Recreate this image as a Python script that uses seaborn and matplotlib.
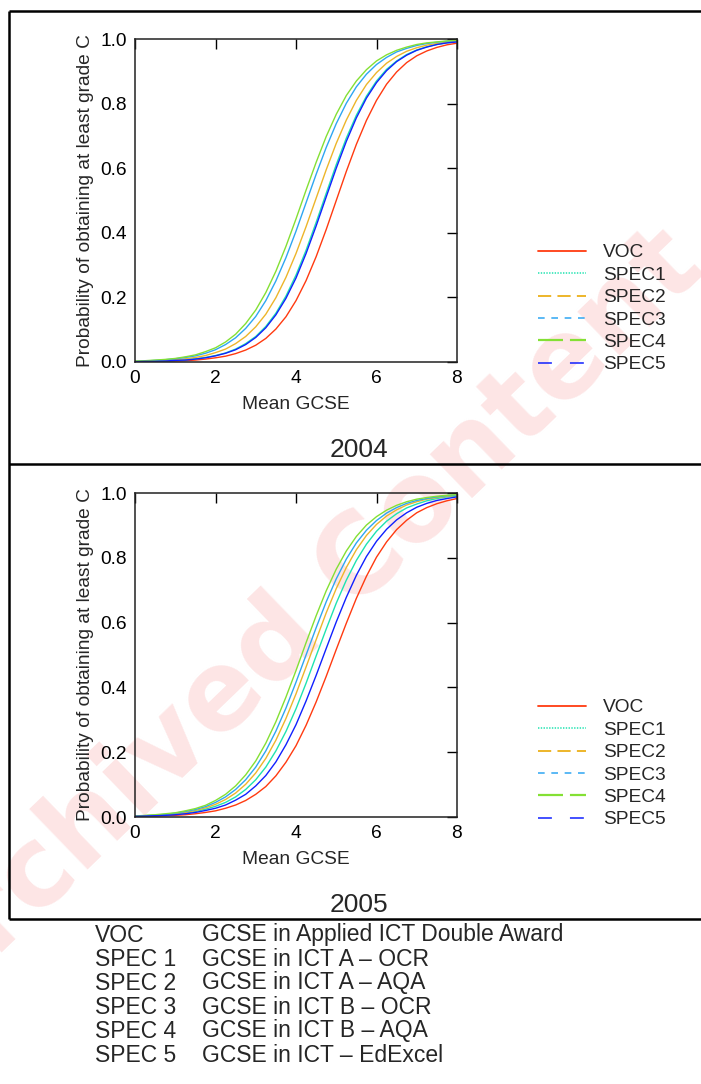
import numpy as np
import pandas as pd
import matplotlib
matplotlib.use("Agg")
import matplotlib.pyplot as plt
from matplotlib.lines import Line2D
import seaborn as sns

# ---------------- data ----------------
mean_gcse = [0.0, 0.25, 0.5, 0.75, 1.0, 1.25, 1.5, 1.75, 2.0, 2.25, 2.5, 2.75, 3.0, 3.25,
             3.5, 3.75, 4.0, 4.25, 4.5, 4.75, 5.0, 5.25, 5.5, 5.75, 6.0, 6.25, 6.5, 6.75,
             7.0, 7.25, 7.5, 7.75, 8.0]
series = ["VOC", "SPEC1", "SPEC2", "SPEC3", "SPEC4", "SPEC5"]

p2004_voc   = [0.001, 0.001, 0.001, 0.002, 0.003, 0.004, 0.006, 0.009, 0.013, 0.018, 0.026, 0.037, 0.052, 0.073, 0.102, 0.140, 0.190,
               0.252, 0.326, 0.410, 0.500, 0.590, 0.674, 0.748, 0.810, 0.860, 0.898, 0.927, 0.948, 0.963, 0.974, 0.982, 0.987]
p2004_spec1 = [0.001, 0.002, 0.002, 0.003, 0.005, 0.007, 0.010, 0.014, 0.020, 0.028, 0.040, 0.057, 0.079, 0.110, 0.151, 0.204, 0.269,
               0.346, 0.432, 0.522, 0.611, 0.693, 0.764, 0.823, 0.870, 0.906, 0.932, 0.952, 0.966, 0.976, 0.983, 0.988, 0.992]
p2004_spec2 = [0.002, 0.002, 0.003, 0.005, 0.007, 0.010, 0.014, 0.020, 0.029, 0.040, 0.057, 0.079, 0.109, 0.148, 0.199, 0.262, 0.336,
               0.419, 0.507, 0.595, 0.677, 0.749, 0.810, 0.859, 0.896, 0.925, 0.946, 0.962, 0.973, 0.981, 0.986, 0.990, 0.993]
p2004_spec3 = [0.002, 0.003, 0.005, 0.007, 0.010, 0.014, 0.019, 0.027, 0.038, 0.054, 0.075, 0.104, 0.141, 0.190, 0.251, 0.323, 0.405,
               0.493, 0.581, 0.664, 0.738, 0.801, 0.852, 0.891, 0.921, 0.943, 0.960, 0.971, 0.980, 0.986, 0.990, 0.993, 0.995]
p2004_spec4 = [0.003, 0.004, 0.006, 0.008, 0.011, 0.016, 0.022, 0.032, 0.044, 0.062, 0.086, 0.119, 0.161, 0.215, 0.281, 0.358, 0.443,
               0.532, 0.618, 0.698, 0.767, 0.825, 0.870, 0.905, 0.932, 0.951, 0.965, 0.975, 0.983, 0.988, 0.991, 0.994, 0.996]
p2004_spec5 = [0.001, 0.002, 0.002, 0.003, 0.005, 0.006, 0.009, 0.013, 0.019, 0.027, 0.038, 0.054, 0.076, 0.106, 0.146, 0.197, 0.260,
               0.336, 0.421, 0.511, 0.600, 0.683, 0.756, 0.817, 0.865, 0.902, 0.930, 0.950, 0.965, 0.975, 0.983, 0.988, 0.991]

p2005_voc   = [0.001, 0.002, 0.003, 0.004, 0.005, 0.007, 0.010, 0.014, 0.019, 0.027, 0.037, 0.051, 0.070, 0.094, 0.127, 0.169, 0.220,
               0.283, 0.355, 0.434, 0.517, 0.598, 0.675, 0.743, 0.802, 0.849, 0.887, 0.916, 0.939, 0.955, 0.967, 0.976, 0.983]
p2005_spec1 = [0.002, 0.003, 0.004, 0.006, 0.009, 0.012, 0.017, 0.024, 0.033, 0.045, 0.062, 0.085, 0.115, 0.154, 0.204, 0.264, 0.334,
               0.413, 0.497, 0.580, 0.660, 0.731, 0.792, 0.842, 0.882, 0.913, 0.936, 0.954, 0.966, 0.976, 0.983, 0.988, 0.991]
p2005_spec2 = [0.003, 0.004, 0.005, 0.007, 0.010, 0.014, 0.020, 0.028, 0.039, 0.054, 0.074, 0.101, 0.136, 0.181, 0.237, 0.304, 0.380,
               0.463, 0.547, 0.630, 0.705, 0.770, 0.825, 0.869, 0.903, 0.929, 0.948, 0.963, 0.973, 0.981, 0.986, 0.990, 0.993]
p2005_spec3 = [0.003, 0.004, 0.006, 0.008, 0.012, 0.017, 0.023, 0.032, 0.045, 0.062, 0.085, 0.115, 0.154, 0.204, 0.265, 0.336, 0.416,
               0.500, 0.584, 0.664, 0.735, 0.796, 0.846, 0.885, 0.915, 0.938, 0.955, 0.968, 0.977, 0.983, 0.988, 0.992, 0.994]
p2005_spec4 = [0.003, 0.005, 0.007, 0.010, 0.013, 0.019, 0.026, 0.036, 0.051, 0.070, 0.096, 0.130, 0.173, 0.228, 0.294, 0.370, 0.452,
               0.538, 0.621, 0.698, 0.765, 0.821, 0.866, 0.901, 0.927, 0.947, 0.962, 0.973, 0.981, 0.986, 0.990, 0.993, 0.995]
p2005_spec5 = [0.002, 0.003, 0.004, 0.005, 0.007, 0.010, 0.014, 0.020, 0.027, 0.037, 0.052, 0.070, 0.096, 0.128, 0.170, 0.223, 0.285,
               0.358, 0.437, 0.520, 0.602, 0.678, 0.746, 0.804, 0.851, 0.888, 0.917, 0.939, 0.956, 0.968, 0.977, 0.983, 0.988]

x_ticks = [0, 2, 4, 6, 8]
y_ticks = [0.0, 0.2, 0.4, 0.6, 0.8, 1.0]
years = ["2004", "2005"]
x_label = "Mean GCSE"
y_label = "Probability of obtaining at least grade C"

key_codes = ["VOC", "SPEC 1", "SPEC 2", "SPEC 3", "SPEC 4", "SPEC 5"]
key_texts = ["GCSE in Applied ICT Double Award",
             "GCSE in ICT A \u2013 OCR",
             "GCSE in ICT A \u2013 AQA",
             "GCSE in ICT B \u2013 OCR",
             "GCSE in ICT B \u2013 AQA",
             "GCSE in ICT \u2013 EdExcel"]
watermark = "Archived Content"

# ---------------- styles ----------------
colors = {"VOC": "#FF3A10", "SPEC1": "#1FE3B0", "SPEC2": "#EDB52A",
          "SPEC3": "#2EA6F2", "SPEC4": "#84E034", "SPEC5": "#1020FF"}
legend_dashes = {"VOC": None, "SPEC1": (1.0, 1.0), "SPEC2": (9.5, 4.5),
                 "SPEC3": (4.8, 4.8), "SPEC4": (18.0, 5.0), "SPEC5": (10.0, 13.0)}
legend_lw = {"VOC": 1.3, "SPEC1": 1.1, "SPEC2": 1.4, "SPEC3": 1.1, "SPEC4": 1.6, "SPEC5": 1.1}

sns.set_style("white")
plt.rcParams["font.family"] = ["Liberation Sans", "DejaVu Sans"]
plt.rcParams["lines.scale_dashes"] = False

W, H = 701, 1084
fig = plt.figure(figsize=(W / 100, H / 100), dpi=100)

# faint diagonal watermark, behind everything
fig.text(300 / W, 1 - 622 / H, watermark, rotation=44, fontsize=79, fontweight="bold",
         family=["DejaVu Sans"], color="#FDE5E5", ha="center", va="center", zorder=-5,
         rotation_mode="anchor")

data_by_year = {
    "2004": [p2004_voc, p2004_spec1, p2004_spec2, p2004_spec3, p2004_spec4, p2004_spec5],
    "2005": [p2005_voc, p2005_spec1, p2005_spec2, p2005_spec3, p2005_spec4, p2005_spec5],
}

axes_px = {"2004": (39, 362), "2005": (493, 817)}
legend_top_px = {"2004": 244, "2005": 699}
title_px = {"2004": 450, "2005": 905}

FS = 13.8
for yr in years:
    top, bot = axes_px[yr]
    ax = fig.add_axes([135 / W, 1 - bot / H, (457 - 135) / W, (bot - top) / H])
    ax.set_facecolor("none")
    rows = []
    for name, vals in zip(series, data_by_year[yr]):
        for xv, pv in zip(mean_gcse, vals):
            rows.append({"Mean GCSE": xv, "p": pv, "series": name})
    df = pd.DataFrame(rows)
    sns.lineplot(data=df, x="Mean GCSE", y="p", hue="series", hue_order=series,
                 palette=colors, linewidth=1.0, legend=False, ax=ax, sort=True,
                 estimator=None)
    ax.set_xlim(0, 8)
    ax.set_ylim(0, 1)
    ax.set_xticks(x_ticks)
    ax.set_yticks(y_ticks)
    ax.set_xticklabels([str(t) for t in x_ticks])
    ax.set_yticklabels([f"{t:.1f}" for t in y_ticks])
    ax.tick_params(direction="in", length=7, width=1.0, top=True, right=True,
                   labelsize=FS, pad=6, colors="black")
    for s in ax.spines.values():
        s.set_visible(True)
        s.set_color("#222222")
        s.set_linewidth(1.1)
    ax.set_xlabel(x_label, fontsize=FS, labelpad=6)
    ax.set_ylabel(y_label, fontsize=FS, labelpad=4)
    ax.grid(False)

    handles = [Line2D([0], [0], color=colors[n], lw=legend_lw[n],
                      linestyle="-" if legend_dashes[n] is None else (0, legend_dashes[n]))
               for n in series]
    ax.legend(handles, series, loc="upper left",
              bbox_to_anchor=(538 / W, 1 - legend_top_px[yr] / H),
              bbox_transform=fig.transFigure, frameon=False, fontsize=FS,
              handlelength=2.5, handletextpad=0.9, labelspacing=0.26,
              borderpad=0, borderaxespad=0)

    fig.text(359 / W, 1 - title_px[yr] / H, yr, fontsize=19, ha="center", va="center")

# panel frame lines
frame_kw = dict(color="black", lw=1.8, transform=fig.transFigure, solid_capstyle="butt")
for ypx in (11, 464, 919):
    fig.add_artist(Line2D([9 / W, 1.0], [1 - ypx / H, 1 - ypx / H], **frame_kw))
fig.add_artist(Line2D([9 / W, 9 / W], [1 - 11 / H, 1 - 919 / H], **frame_kw))

# key below the panels
for i, (c, t) in enumerate(zip(key_codes, key_texts)):
    ypx = 935 + 24 * i
    fig.text(95 / W, 1 - ypx / H, c, fontsize=16.5, ha="left", va="center")
    fig.text(202 / W, 1 - ypx / H, t, fontsize=16.5, ha="left", va="center")

fig.savefig("out.png", dpi=100)
